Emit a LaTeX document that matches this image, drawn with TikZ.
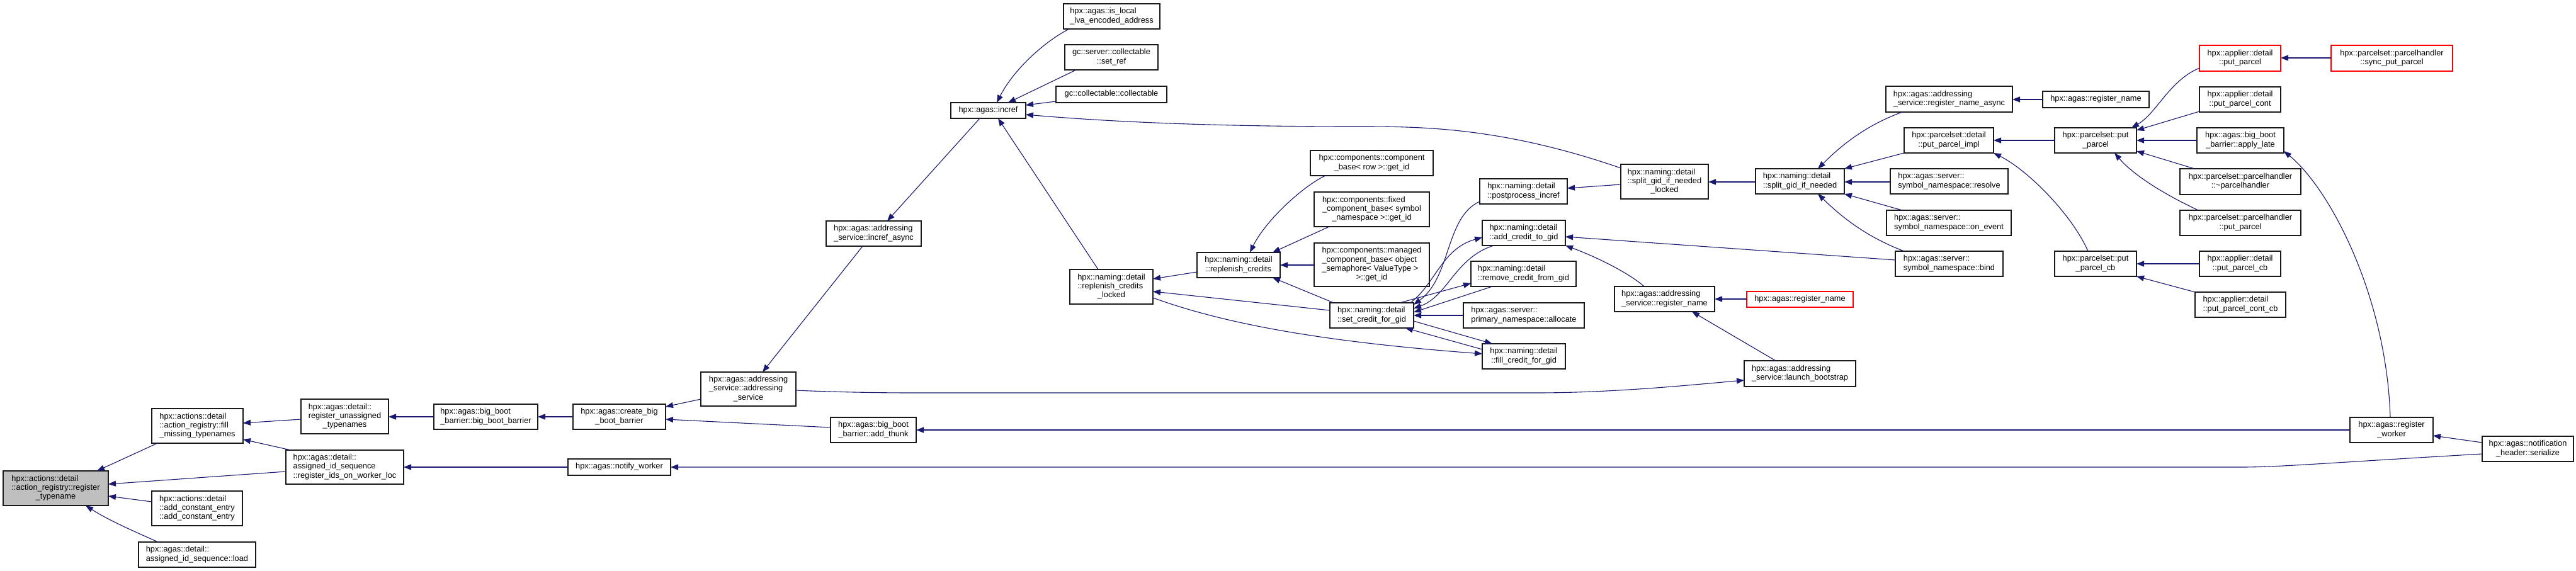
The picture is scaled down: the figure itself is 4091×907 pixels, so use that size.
\documentclass[tikz,border=0pt]{standalone}
\usepackage{fontspec}
\setmainfont{Liberation Sans}
\usetikzlibrary{arrows.meta,calc}
\definecolor{edgec}{HTML}{191970}
\definecolor{mainfill}{HTML}{BFBFBF}
\newcommand{\LC}[1]{\multicolumn{1}{@{}c@{}}{#1}}
\newcommand{\bx}[7][]{%
  \pgfmathsetmacro\bxw{#5-#3}%
  \pgfmathsetmacro\bxh{#6-#4}%
  \pgfmathsetmacro\bxcx{(#3+#5)/2}%
  \pgfmathsetmacro\bxcy{(#4+#6)/2}%
  \node[box,#1,minimum width=\bxw pt,minimum height=\bxh pt] (#2) at (\bxcx,\bxcy)
    {\makebox[0pt]{\begin{tabular}{@{}l@{}}#7\end{tabular}}};}
\tikzset{
  box/.style={draw=black!90, line width=1.2pt, fill=white, inner sep=0pt, outer sep=0pt,
    rectangle, font=\fontsize{12.8}{14.3}\selectfont},
  redbox/.style={draw=red},
  mainbox/.style={fill=mainfill},
  cl/.style={draw=edgec, line width=1.1pt, -{Triangle[length=12pt,width=9pt]}, color=edgec}
}
\begin{document}
\begin{tikzpicture}[x=1pt,y=-1pt]
\fill[white] (0,0) rectangle (4091,907);
\useasboundingbox (0,0) rectangle (4091,907);
\renewcommand{\arraystretch}{1}
% nodes
\bx[mainbox]{main}{5}{748}{172}{803}{hpx::actions::detail\\::action\_registry::register\\\LC{\_typename}}
\bx{fillm}{241}{649}{386}{704}{hpx::actions::detail\\::action\_registry::fill\\\LC{\_missing\_typenames}}
\bx{regun}{478}{634}{617}{689}{hpx::agas::detail::\\register\_unassigned\\\LC{\_typenames}}
\bx{regids}{454}{715}{641}{769}{hpx::agas::detail::\\assigned\_id\_sequence\\\LC{::register\_ids\_on\_worker\_loc}}
\bx{addc}{241}{780}{385}{835}{hpx::actions::detail\\::add\_constant\_entry\\\LC{::add\_constant\_entry}}
\bx{load}{220}{861}{406}{901}{hpx::agas::detail::\\\LC{assigned\_id\_sequence::load}}
\bx{bbb}{689}{642}{854}{682}{hpx::agas::big\_boot\\\LC{\_barrier::big\_boot\_barrier}}
\bx{cbb}{910}{642}{1057}{682}{hpx::agas::create\_big\\\LC{\_boot\_barrier}}
\bx{asvc}{1113}{591}{1264}{645}{hpx::agas::addressing\\\_service::addressing\\\LC{\_service}}
\bx{thunk}{1319}{663}{1455}{703}{hpx::agas::big\_boot\\\LC{\_barrier::add\_thunk}}
\bx{notify}{902}{729}{1065}{755}{hpx::agas::notify\_worker}
\bx{islocal}{1689}{6}{1842}{46}{hpx::agas::is\_local\\\LC{\_lva\_encoded\_address}}
\bx{setref}{1691}{71}{1839}{111}{gc::server::collectable\\\LC{::set\_ref}}
\bx{coll}{1677}{137}{1853}{163}{gc::collectable::collectable}
\bx{incref}{1510}{163}{1629}{188}{hpx::agas::incref}
\bx{incasync}{1312}{351}{1463}{391}{hpx::agas::addressing\\\LC{\_service::incref\_async}}
\bx{replock}{1699}{428}{1831}{483}{hpx::naming::detail\\::replenish\_credits\\\LC{\_locked}}
\bx{repl}{1901}{401}{2033}{441}{hpx::naming::detail\\\LC{::replenish\_credits}}
\bx{cbrow}{2081}{239}{2276}{279}{hpx::components::component\\\LC{\_base< row >::get\_id}}
\bx{fixed}{2087}{305}{2270}{360}{hpx::components::fixed\\\_component\_base< symbol\\\LC{\_namespace >::get\_id}}
\bx{managed}{2087}{386}{2270}{455}{hpx::components::managed\\\_component\_base< object\\\_semaphore< ValueType >\\\LC{>::get\_id}}
\bx{postp}{2350}{284}{2489}{324}{hpx::naming::detail\\\LC{::postprocess\_incref}}
\bx{addcr}{2354}{350}{2486}{390}{hpx::naming::detail\\\LC{::add\_credit\_to\_gid}}
\bx{remcr}{2336}{415}{2503}{455}{hpx::naming::detail\\\LC{::remove\_credit\_from\_gid}}
\bx{splitlock}{2574}{261}{2713}{316}{hpx::naming::detail\\::split\_gid\_if\_needed\\\LC{\_locked}}
\bx{asregname}{2564}{455}{2723}{495}{hpx::agas::addressing\\\LC{\_service::register\_name}}
\bx{setcr}{2112}{481}{2245}{521}{hpx::naming::detail\\\LC{::set\_credit\_for\_gid}}
\bx{alloc}{2324}{481}{2516}{521}{hpx::agas::server::\\\LC{primary\_namespace::allocate}}
\bx{fillcr}{2354}{546}{2486}{586}{hpx::naming::detail\\\LC{::fill\_credit\_for\_gid}}
\bx[redbox]{regnamered}{2774}{463}{2943}{488}{hpx::agas::register\_name}
\bx{launch}{2770}{573}{2947}{614}{hpx::agas::addressing\\\LC{\_service::launch\_bootstrap}}
\bx{split}{2788}{268}{2929}{308}{hpx::naming::detail\\\LC{::split\_gid\_if\_needed}}
\bx{regasync}{2995}{137}{3196}{178}{hpx::agas::addressing\\\LC{\_service::register\_name\_async}}
\bx{ppimpl}{3024}{203}{3166}{243}{hpx::parcelset::detail\\\LC{::put\_parcel\_impl}}
\bx{resolve}{3002}{268}{3189}{308}{hpx::agas::server::\\\LC{symbol\_namespace::resolve}}
\bx{onevent}{2996}{334}{3194}{374}{hpx::agas::server::\\\LC{symbol\_namespace::on\_event}}
\bx{bind}{3010}{399}{3181}{439}{hpx::agas::server::\\\LC{symbol\_namespace::bind}}
\bx{regname}{3244}{145}{3413}{171}{hpx::agas::register\_name}
\bx{putp}{3263}{203}{3393}{243}{hpx::parcelset::put\\\LC{\_parcel}}
\bx{putpcb}{3263}{399}{3393}{439}{hpx::parcelset::put\\\LC{\_parcel\_cb}}
\bx[redbox]{appp}{3493}{72}{3622}{113}{hpx::applier::detail\\\LC{::put\_parcel}}
\bx[redbox]{sync}{3702}{72}{3895}{113}{hpx::parcelset::parcelhandler\\\LC{::sync\_put\_parcel}}
\bx{ppcont}{3493}{138}{3622}{178}{hpx::applier::detail\\\LC{::put\_parcel\_cont}}
\bx{applylate}{3489}{203}{3627}{243}{hpx::agas::big\_boot\\\LC{\_barrier::apply\_late}}
\bx{dtor}{3462}{268}{3654}{309}{hpx::parcelset::parcelhandler\\\LC{::\textasciitilde parcelhandler}}
\bx{phput}{3462}{334}{3654}{374}{hpx::parcelset::parcelhandler\\\LC{::put\_parcel}}
\bx{apcb}{3493}{399}{3622}{439}{hpx::applier::detail\\\LC{::put\_parcel\_cb}}
\bx{apcontcb}{3486}{464}{3630}{504}{hpx::applier::detail\\\LC{::put\_parcel\_cont\_cb}}
\bx{regworker}{3732}{663}{3864}{703}{hpx::agas::register\\\LC{\_worker}}
\bx{serialize}{3942}{693}{4087}{733}{hpx::agas::notification\\\LC{\_header::serialize}}
% edges
\draw[cl] (250,0 |- fillm.south) -- (154,0 |- main.north);
\draw[cl] (regun.west |- 0,666) -- (fillm.east |- 0,672);
\draw[cl] (462,0 |- regids.north) -- (fillm.east |- 0,698);
\draw[cl] (regids.west |- 0,749) -- (main.east |- 0,769);
\draw[cl] (addc.west |- 0,797) -- (main.east |- 0,788);
\draw[cl] (251,0 |- load.north) .. controls (220,847) and (175,828) .. (136,0 |- main.south);
\draw[cl] (bbb.west |- 0,662) -- (regun.east |- 0,662);
\draw[cl] (notify.west |- 0,742) -- (regids.east |- 0,742);
\draw[cl] (cbb.west |- 0,662) -- (bbb.east |- 0,662);
\draw[cl] (asvc.west |- 0,634) -- (cbb.east |- 0,646);
\draw[cl] (thunk.west |- 0,679) -- (cbb.east |- 0,666);
\draw[cl] (1370,0 |- incasync.south) -- (1211,0 |- asvc.north);
\draw[cl] (asvc.east |- 0,620) .. controls (1330,623) and (1400,624) .. (1449,624) -- (2440,624) .. controls (2560,624) and (2680,612) .. (launch.west |- 0,604);
\draw[cl] (2820,0 |- launch.north) -- (2687,0 |- asregname.south);
\draw[cl] (regnamered.west |- 0,475) -- (asregname.east |- 0,475);
\draw[cl] (2611,0 |- asregname.north) .. controls (2585,432) and (2530,406) .. (addcr.south east);
\draw[cl] (bind.west |- 0,413) -- (addcr.east |- 0,376);
\draw[cl] (split.west |- 0,289) -- (splitlock.east |- 0,289);
\draw[cl] (splitlock.west |- 0,267) .. controls (2380,200) and (2250,201) .. (2150,201) .. controls (1950,201) and (1780,195) .. (incref.east |- 0,182);
\draw[cl] (splitlock.west |- 0,293) -- (postp.east |- 0,299);
\draw[cl] (3021,0 |- regasync.south) .. controls (2960,200) and (2920,235) .. (2887,0 |- split.north);
\draw[cl] (ppimpl.south west) -- (split.north east);
\draw[cl] (resolve.west |- 0,289) -- (split.east |- 0,289);
\draw[cl] (3021,0 |- onevent.north) -- (split.south east);
\draw[cl] (3024,0 |- bind.north) .. controls (2960,375) and (2920,340) .. (2887,0 |- split.south);
\draw[cl] (regname.west |- 0,158) -- (regasync.east |- 0,158);
\draw[cl] (putp.west |- 0,223) -- (ppimpl.east |- 0,223);
\draw[cl] (3316,0 |- putpcb.north) .. controls (3290,340) and (3220,270) .. (ppimpl.south east);
\draw[cl] (appp.west |- 0,108) .. controls (3445,128) and (3425,180) .. (3385,0 |- putp.north);
\draw[cl] (ppcont.west |- 0,177) -- (putp.east |- 0,207);
\draw[cl] (applylate.west |- 0,223) -- (putp.east |- 0,223);
\draw[cl] (3485,0 |- dtor.north) -- (putp.east |- 0,240);
\draw[cl] (3491,0 |- phput.north) .. controls (3440,310) and (3390,280) .. (3358,0 |- putp.south);
\draw[cl] (sync.west |- 0,92) -- (appp.east |- 0,92);
\draw[cl] (apcb.west |- 0,419) -- (putpcb.east |- 0,419);
\draw[cl] (apcontcb.north west) -- (putpcb.south east);
\draw[cl] (3796,0 |- regworker.north) .. controls (3790,470) and (3700,300) .. (applylate.east |- 0,240);
\draw[cl] (serialize.west |- 0,703) -- (regworker.east |- 0,692);
\draw[cl] (serialize.west |- 0,721) .. controls (3700,735) and (3620,742) .. (3560,742) -- (notify.east |- 0,742);
\draw[cl] (regworker.west |- 0,683) -- (thunk.east |- 0,683);
\draw[cl] (1698,0 |- islocal.south) .. controls (1660,65) and (1610,110) .. (1583,0 |- incref.north);
\draw[cl] (1709,0 |- setref.south) -- (1601,0 |- incref.north);
\draw[cl] (coll.west |- 0,161) -- (incref.east |- 0,167);
\draw[cl] (1556,0 |- incref.south) -- (1409,0 |- incasync.north);
\draw[cl] (1744,0 |- replock.north) -- (1585,0 |- incref.south);
\draw[cl] (repl.west |- 0,432) -- (replock.east |- 0,443);
\draw[cl] (setcr.west |- 0,493) -- (replock.east |- 0,463);
\draw[cl] (replock.east |- 0,473) .. controls (1960,520) and (2130,545) .. (fillcr.west |- 0,562);
\draw[cl] (2105,0 |- cbrow.south) .. controls (2070,295) and (2010,350) .. (1985,0 |- repl.north);
\draw[cl] (2111,0 |- fixed.south) -- (2021,0 |- repl.north);
\draw[cl] (managed.west |- 0,421) -- (repl.east |- 0,421);
\draw[cl] (2118,0 |- setcr.north) -- (2021,0 |- repl.south);
\draw[cl] (postp.west |- 0,320) .. controls (2295,345) and (2305,440) .. (setcr.east |- 0,484);
\draw[cl] (2240,0 |- setcr.north) .. controls (2280,450) and (2290,395) .. (addcr.west |- 0,377);
\draw[cl] (2372,0 |- addcr.south) .. controls (2310,410) and (2300,470) .. (setcr.east |- 0,490);
\draw[cl] (2223,0 |- setcr.north) -- (remcr.west |- 0,450);
\draw[cl] (2370,0 |- remcr.south) -- (setcr.east |- 0,496);
\draw[cl] (alloc.west |- 0,501) -- (setcr.east |- 0,501);
\draw[cl] (setcr.east |- 0,510) -- (2370,0 |- fillcr.north);
\draw[cl] (fillcr.west |- 0,555) -- (2232,0 |- setcr.south);
\end{tikzpicture}
\end{document}
